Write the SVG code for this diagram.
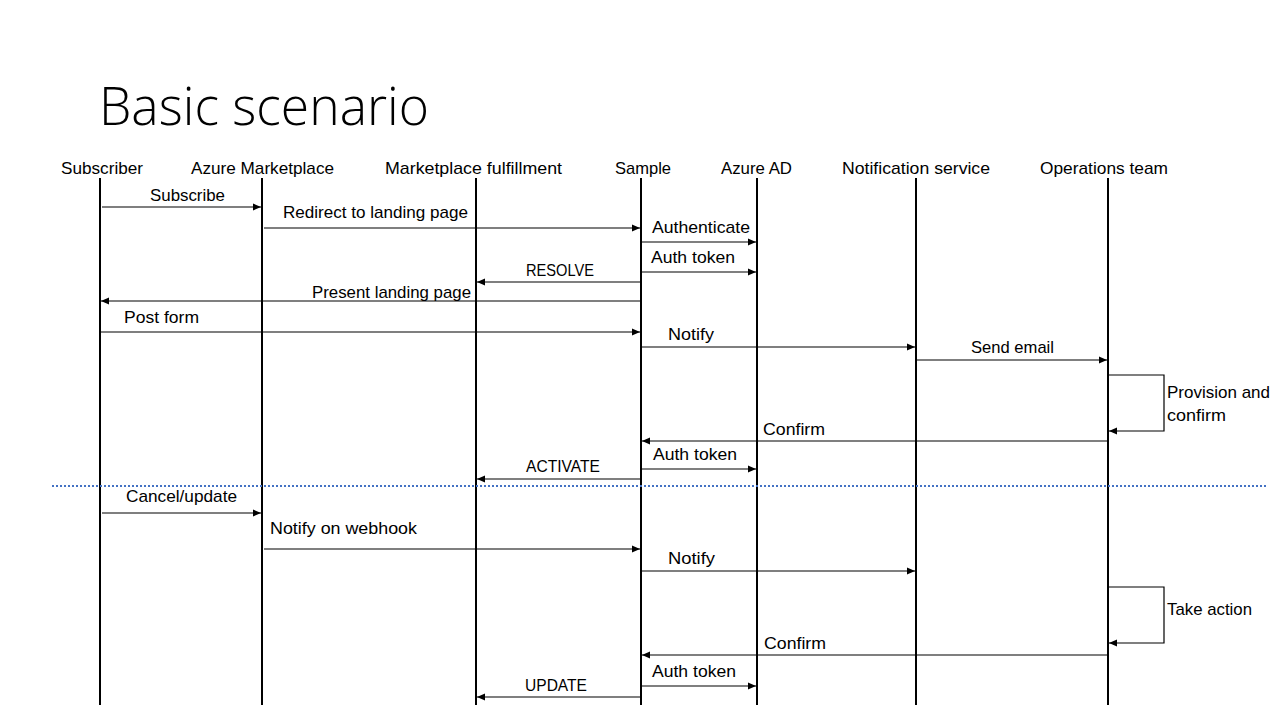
<svg xmlns="http://www.w3.org/2000/svg" width="1280" height="720" viewBox="0 0 1280 720">
<defs>
<marker id="ah" viewBox="0 0 8 8" refX="8" refY="4" markerWidth="8" markerHeight="8" markerUnits="userSpaceOnUse" orient="auto">
<path d="M0,0.5 L8,4 L0,7.5 Z" fill="#000"/>
</marker>
<style>
text{font-family:"Liberation Sans",Arial,sans-serif;font-size:17px;fill:#000}
.title{font-family:"Open Sans","Liberation Sans",sans-serif;font-weight:300;font-size:54px}
.life{stroke:#000;stroke-width:2;fill:none}
.msg{stroke:#000;stroke-width:1.2;fill:none;marker-end:url(#ah)}
.sep{stroke:#4472C4;stroke-width:2;stroke-dasharray:2 2}
</style>
</defs>
<rect width="1280" height="720" fill="#fff"/>
<text class="title" x="99" y="125" textLength="330" lengthAdjust="spacingAndGlyphs">Basic scenario</text>

<g id="subscriber"><text x="61" y="174" textLength="82" lengthAdjust="spacingAndGlyphs">Subscriber</text><line class="life" x1="100" y1="178" x2="100" y2="705"/></g>
<g id="azure-marketplace"><text x="191" y="174" textLength="143" lengthAdjust="spacingAndGlyphs">Azure Marketplace</text><line class="life" x1="262" y1="178" x2="262" y2="705"/></g>
<g id="marketplace-fulfillment"><text x="385" y="174" textLength="177" lengthAdjust="spacingAndGlyphs">Marketplace fulfillment</text><line class="life" x1="476" y1="178" x2="476" y2="705"/></g>
<g id="sample"><text x="615" y="174" textLength="56" lengthAdjust="spacingAndGlyphs">Sample</text><line class="life" x1="641" y1="178" x2="641" y2="705"/></g>
<g id="azure-ad"><text x="721" y="174" textLength="71" lengthAdjust="spacingAndGlyphs">Azure AD</text><line class="life" x1="757" y1="178" x2="757" y2="705"/></g>
<g id="notification-service"><text x="842" y="174" textLength="148" lengthAdjust="spacingAndGlyphs">Notification service</text><line class="life" x1="916" y1="178" x2="916" y2="705"/></g>
<g id="operations-team"><text x="1040" y="174" textLength="128" lengthAdjust="spacingAndGlyphs">Operations team</text><line class="life" x1="1108" y1="178" x2="1108" y2="705"/></g>

<line class="sep" x1="52" y1="486" x2="1266" y2="486"/>

<g id="connectors">
<line class="msg" x1="102" y1="207" x2="261" y2="207"/>
<line class="msg" x1="264" y1="228" x2="640" y2="228"/>
<line class="msg" x1="642" y1="242" x2="756" y2="242"/>
<line class="msg" x1="642" y1="272" x2="756" y2="272"/>
<line class="msg" x1="640" y1="282" x2="477" y2="282"/>
<line class="msg" x1="640" y1="301" x2="101" y2="301"/>
<line class="msg" x1="101" y1="332" x2="640" y2="332"/>
<line class="msg" x1="642" y1="347" x2="915" y2="347"/>
<line class="msg" x1="917" y1="360" x2="1107" y2="360"/>
<polyline class="msg" points="1109,375 1164,375 1164,431 1109,431"/>
<line class="msg" x1="1107" y1="441" x2="642" y2="441"/>
<line class="msg" x1="642" y1="469" x2="756" y2="469"/>
<line class="msg" x1="640" y1="479" x2="477" y2="479"/>
<line class="msg" x1="102" y1="513" x2="261" y2="513"/>
<line class="msg" x1="264" y1="549" x2="640" y2="549"/>
<line class="msg" x1="642" y1="571" x2="915" y2="571"/>
<polyline class="msg" points="1109,587 1164,587 1164,643 1109,643"/>
<line class="msg" x1="1107" y1="655" x2="642" y2="655"/>
<line class="msg" x1="642" y1="686" x2="756" y2="686"/>
<line class="msg" x1="640" y1="697" x2="477" y2="697"/>
</g>

<g id="labels">
<text x="150" y="201" textLength="75" lengthAdjust="spacingAndGlyphs">Subscribe</text>
<text x="283" y="218" textLength="185" lengthAdjust="spacingAndGlyphs">Redirect to landing page</text>
<text x="652" y="233" textLength="98" lengthAdjust="spacingAndGlyphs">Authenticate</text>
<text x="651" y="263" textLength="84" lengthAdjust="spacingAndGlyphs">Auth token</text>
<text x="526" y="276" textLength="68" lengthAdjust="spacingAndGlyphs">RESOLVE</text>
<text x="312" y="298" textLength="159" lengthAdjust="spacingAndGlyphs">Present landing page</text>
<text x="124" y="323" textLength="75" lengthAdjust="spacingAndGlyphs">Post form</text>
<text x="668" y="340" textLength="46" lengthAdjust="spacingAndGlyphs">Notify</text>
<text x="971" y="353" textLength="83" lengthAdjust="spacingAndGlyphs">Send email</text>
<text x="1167" y="398" textLength="103" lengthAdjust="spacingAndGlyphs">Provision and</text>
<text x="1167" y="421" textLength="59" lengthAdjust="spacingAndGlyphs">confirm</text>
<text x="763" y="435" textLength="62" lengthAdjust="spacingAndGlyphs">Confirm</text>
<text x="653" y="460" textLength="84" lengthAdjust="spacingAndGlyphs">Auth token</text>
<text x="526" y="472" textLength="74" lengthAdjust="spacingAndGlyphs">ACTIVATE</text>
<text x="126" y="502" textLength="111" lengthAdjust="spacingAndGlyphs">Cancel/update</text>
<text x="270" y="534" textLength="147" lengthAdjust="spacingAndGlyphs">Notify on webhook</text>
<text x="668" y="564" textLength="47" lengthAdjust="spacingAndGlyphs">Notify</text>
<text x="1167" y="615" textLength="85" lengthAdjust="spacingAndGlyphs">Take action</text>
<text x="764" y="649" textLength="62" lengthAdjust="spacingAndGlyphs">Confirm</text>
<text x="652" y="677" textLength="84" lengthAdjust="spacingAndGlyphs">Auth token</text>
<text x="525" y="691" textLength="62" lengthAdjust="spacingAndGlyphs">UPDATE</text>
</g>
</svg>
